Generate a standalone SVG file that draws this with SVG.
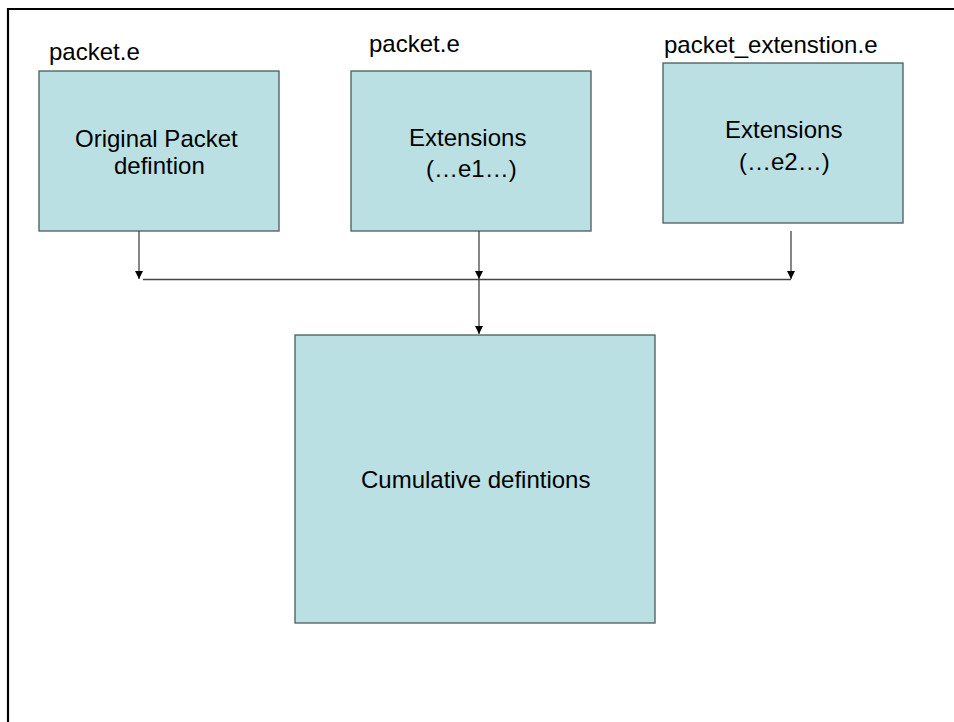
<svg xmlns="http://www.w3.org/2000/svg" width="954" height="722" viewBox="0 0 954 722">
  <style>
    .box { fill: #BBE0E3; stroke: #4a5a5c; stroke-width: 1.3; }
    .lbl { font-family: "Liberation Sans", Arial, sans-serif; font-size: 24px; fill: #000; }
    .wire { fill: none; stroke: #444; stroke-width: 1.3; }
  </style>
  <defs>
    <marker id="arrow" viewBox="0 0 8 8" refX="8" refY="4" markerWidth="8" markerHeight="8" markerUnits="userSpaceOnUse" orient="auto">
      <path d="M0,0 L8,4 L0,8 Z" fill="#000"/>
    </marker>
  </defs>
  <rect width="954" height="722" fill="#fff"/>

  <!-- page frame (top and left edges) -->
  <path d="M8,722 V9 H954" fill="none" stroke="#000" stroke-width="2.2"/>

  <g id="node-original">
    <text class="lbl" x="49" y="60">packet.e</text>
    <rect class="box" x="39" y="71" width="240" height="160"/>
    <text class="lbl" x="75" y="147">Original Packet</text>
    <text class="lbl" x="114" y="174">defintion</text>
  </g>

  <g id="node-ext1">
    <text class="lbl" x="369" y="52">packet.e</text>
    <rect class="box" x="351" y="71" width="240" height="160"/>
    <text class="lbl" x="409" y="146">Extensions</text>
    <text class="lbl" x="426" y="177">(…e1…)</text>
  </g>

  <g id="node-ext2">
    <text class="lbl" x="664" y="53">packet_extenstion.e</text>
    <rect class="box" x="663" y="63" width="240" height="160"/>
    <text class="lbl" x="725" y="138">Extensions</text>
    <text class="lbl" x="739" y="170">(…e2…)</text>
  </g>

  <g id="node-cumulative">
    <rect class="box" x="295" y="335" width="360" height="288"/>
    <text class="lbl" x="361" y="488">Cumulative defintions</text>
  </g>

  <g id="connectors">
    <line class="wire" x1="139" y1="231" x2="139" y2="279" marker-end="url(#arrow)"/>
    <line class="wire" x1="479" y1="231" x2="479" y2="279" marker-end="url(#arrow)"/>
    <line class="wire" x1="791" y1="231" x2="791" y2="279" marker-end="url(#arrow)"/>
    <line class="wire" x1="143" y1="279.5" x2="791" y2="279.5"/>
    <line class="wire" x1="479" y1="279" x2="479" y2="334" marker-end="url(#arrow)"/>
  </g>
</svg>
